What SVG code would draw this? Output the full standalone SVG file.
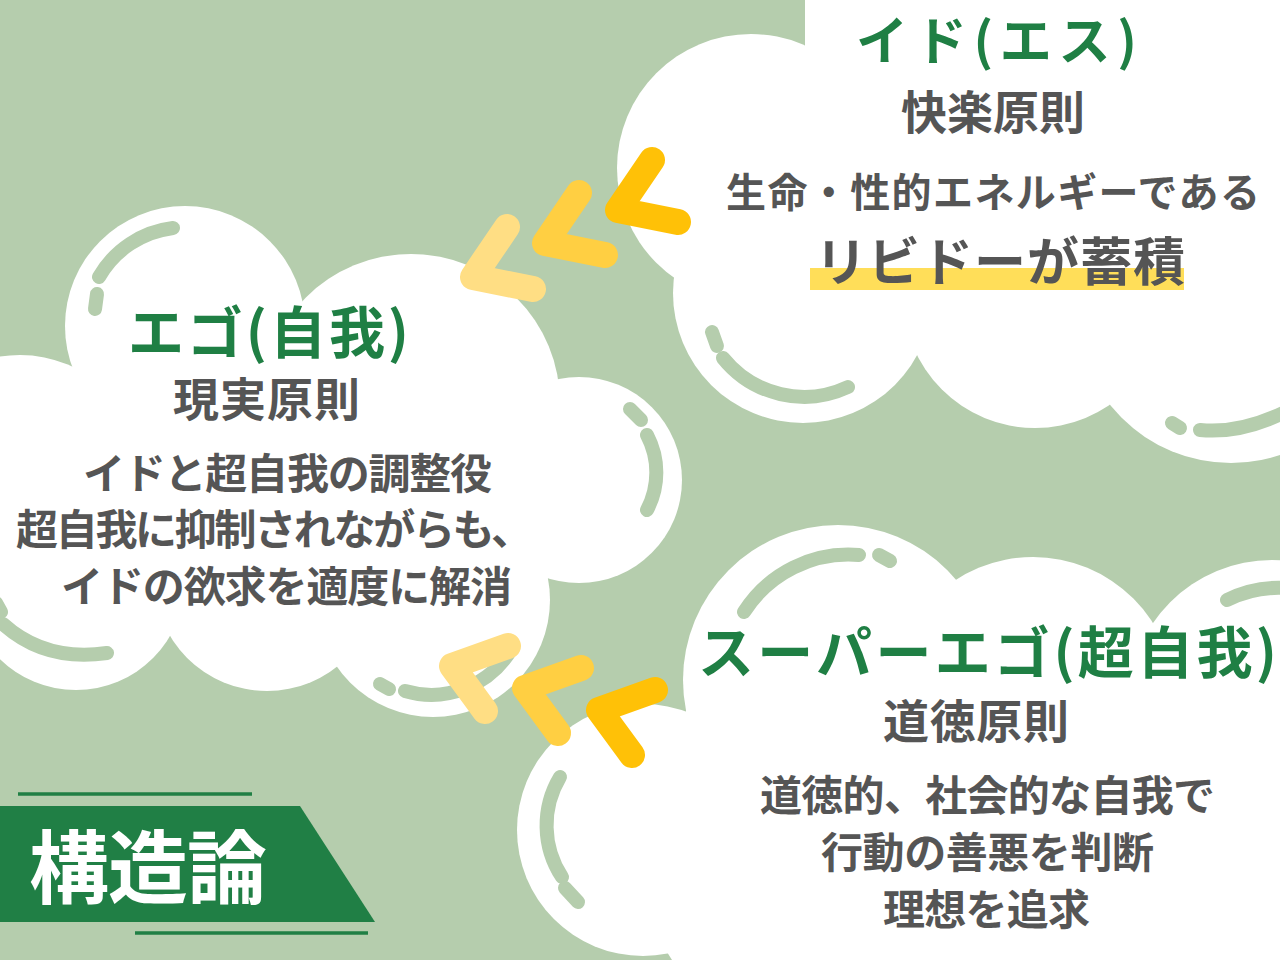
<svg xmlns="http://www.w3.org/2000/svg" width="1280" height="960" viewBox="0 0 1280 960">
<style>
.bg{fill:#b5cdad}
.cloud{fill:#ffffff}
.deco{fill:none;stroke:#b5cdad;stroke-width:14;stroke-linecap:round}
.chev{fill:none;stroke-width:26;stroke-linecap:round;stroke-linejoin:round}
.c1{stroke:#ffc107}.c2{stroke:#ffcf42}.c3{stroke:#ffde84}
.t{font-family:"Noto Sans CJK JP","Noto Sans",sans-serif;font-weight:700}
.title{fill:#1f7f44}
.body{fill:#555555}
.gr{fill:#207f45}
.grl{stroke:#207f45;stroke-width:3.5}
</style>
<rect class="bg" x="0" y="0" width="1280" height="960"/>

<g id="node-id">
  <g class="cloud">
    <circle cx="751" cy="168" r="134"/>
    <circle cx="803" cy="293" r="130"/>
    <circle cx="1035" cy="296" r="132"/>
    <circle cx="1231" cy="308" r="155"/>
    <polygon points="805,0 1280,0 1280,320 1231,308 1035,296 920,300 803,293 700,280 690,240 751,168 805,46"/>
  </g>
  <path class="deco" d="M712 332 L717 346"/>
  <path class="deco" d="M723 358 A104 104 0 0 0 848 387"/>
  <path class="deco" d="M1172 423 L1180 428"/>
  <path class="deco" d="M1200 430 Q1240 434 1285 412"/>
  <rect x="810" y="268" width="374" height="22" fill="#ffde59"/>
  <text class="t title" x="856" y="60" font-size="52" textLength="281">イド(エス)</text>
  <text class="t body" x="901" y="129" font-size="46" textLength="184">快楽原則</text>
  <text class="t body" x="726" y="207" font-size="40" textLength="534">生命・性的エネルギーである</text>
  <text class="t body" x="815" y="281" font-size="52" textLength="370">リビドーが蓄積</text>
</g>

<g id="node-ego">
  <g class="cloud">
    <circle cx="185" cy="326" r="120"/>
    <circle cx="411" cy="403" r="149"/>
    <circle cx="579" cy="480" r="103"/>
    <circle cx="433" cy="600" r="117"/>
    <circle cx="267" cy="578" r="113"/>
    <circle cx="76" cy="581" r="109"/>
    <circle cx="20" cy="480" r="125"/>
    <polygon points="0,380 70,380 185,326 300,305 411,403 550,391 579,480 550,575 433,600 333,660 267,578 170,630 76,581 0,620"/>
  </g>
  <path class="deco" d="M97 294 L95 309"/>
  <path class="deco" d="M99 277 A99 99 0 0 1 173 228"/>
  <path class="deco" d="M630 409 L641 420"/>
  <path class="deco" d="M647 435 A80 80 0 0 1 647 510"/>
  <path class="deco" d="M-4 603 L1 612"/>
  <path class="deco" d="M3 624 Q45 662 107 653"/>
  <path class="deco" d="M380 684 L389 689"/>
  <path class="deco" d="M405 691 A93 93 0 0 0 512 648"/>
  <text class="t title" x="128" y="353" font-size="56" textLength="281">エゴ(自我)</text>
  <text class="t body" x="173" y="416" font-size="46" textLength="187">現実原則</text>
  <text class="t body" x="83" y="489" font-size="42" textLength="409">イドと超自我の調整役</text>
  <text class="t body" x="16" y="545" font-size="42" textLength="517">超自我に抑制されながらも、</text>
  <text class="t body" x="61" y="602" font-size="42" textLength="451">イドの欲求を適度に解消</text>
</g>

<g id="node-superego">
  <g class="cloud">
    <circle cx="838" cy="680" r="155"/>
    <circle cx="1033" cy="699" r="142"/>
    <circle cx="1272" cy="704" r="144"/>
    <circle cx="643" cy="830" r="126"/>
    <polygon points="690,700 838,680 960,610 1033,640 1150,640 1280,600 1280,960 672,960 662,944 643,830"/>
  </g>
  <path class="deco" d="M744 612 A124 124 0 0 1 859 555"/>
  <path class="deco" d="M879 555 L890 561"/>
  <path class="deco" d="M560 777 A94 94 0 0 0 562 877"/>
  <path class="deco" d="M565 888 L578 902"/>
  <path class="deco" d="M1227 600 A116 116 0 0 1 1285 588"/>
  <text class="t title" x="698" y="673" font-size="56" textLength="579">スーパーエゴ(超自我)</text>
  <text class="t body" x="883" y="738" font-size="46" textLength="186">道徳原則</text>
  <text class="t body" x="760" y="811" font-size="42" textLength="455">道徳的、社会的な自我で</text>
  <text class="t body" x="821" y="868" font-size="42" textLength="333">行動の善悪を判断</text>
  <text class="t body" x="883" y="925" font-size="42" textLength="207">理想を追求</text>
</g>

<g id="connectors">
  <path class="chev c1" d="M652 160 L618 210 L678 222"/>
  <path class="chev c2" d="M579 193 L545 243 L605 255"/>
  <path class="chev c3" d="M507 227 L473 277 L533 289"/>
  <path class="chev c3" d="M508 646 L452 666 L485 711"/>
  <path class="chev c2" d="M581 668 L525 688 L558 733"/>
  <path class="chev c1" d="M655 690 L599 710 L632 755"/>
</g>

<g id="banner">
  <line class="grl" x1="18" y1="794" x2="252" y2="794"/>
  <polygon class="gr" points="0,806 300,806 375,922 0,922"/>
  <line class="grl" x1="135" y1="933" x2="368" y2="933"/>
  <text class="t" x="29" y="897" font-size="80" textLength="238" fill="#ffffff">構造論</text>
</g>
</svg>
